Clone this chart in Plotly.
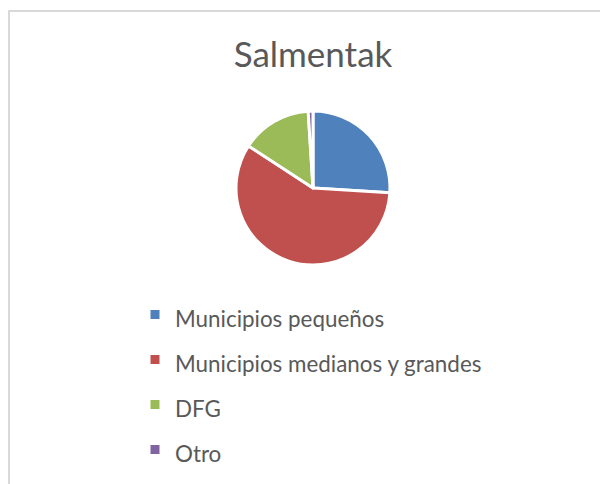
import plotly.graph_objects as go

labels = ["Municipios pequeños", "Municipios medianos y grandes", "DFG", "Otro"]
values = [26.0, 58.2, 14.8, 1.0]
colors = ["#4F81BD", "#C0504D", "#9BBB59", "#8064A2"]
title_text = "Salmentak"

W, H = 608, 484
OFF = 8  # page body margin
cx, cy, r = 313 - OFF, 188 - OFF, 77

legend_labels = [f"<span style='font-size:22.4px'>{l}</span>" for l in labels]

fig = go.Figure(go.Pie(
    labels=legend_labels,
    values=values,
    sort=False,
    direction="clockwise",
    rotation=0,
    textinfo="none",
    hoverinfo="label+percent",
    marker=dict(colors=colors, line=dict(color="white", width=3)),
    domain=dict(x=[(cx - r) / W, (cx + r) / W], y=[(H - cy - r) / H, (H - cy + r) / H]),
))

fig.update_layout(
    width=W, height=H,
    margin=dict(l=0, r=0, t=0, b=0, autoexpand=False),
    paper_bgcolor="white",
    font=dict(family="Lato, 'Open Sans', sans-serif", color="#595959"),
    title=dict(text=title_text, x=cx / W, xanchor="center", y=1 - (55 - OFF) / H, yanchor="middle",
               font=dict(size=35, color="#595959", family="Lato, sans-serif")),
    showlegend=True,
    legend=dict(
        x=127 / W, xanchor="left", y=1 - 279 / H, yanchor="top",
        font=dict(size=32.3, color="#595959"),
        bgcolor="rgba(0,0,0,0)", traceorder="normal",
    ),
    shapes=[dict(type="rect", xref="paper", yref="paper",
                 x0=1 / W, x1=(W + 20) / W, y0=-20 / H, y1=1 - 3 / H,
                 line=dict(color="#D9D9D9", width=2), fillcolor="rgba(0,0,0,0)", layer="below")],
)

fig.write_html("out.html")
